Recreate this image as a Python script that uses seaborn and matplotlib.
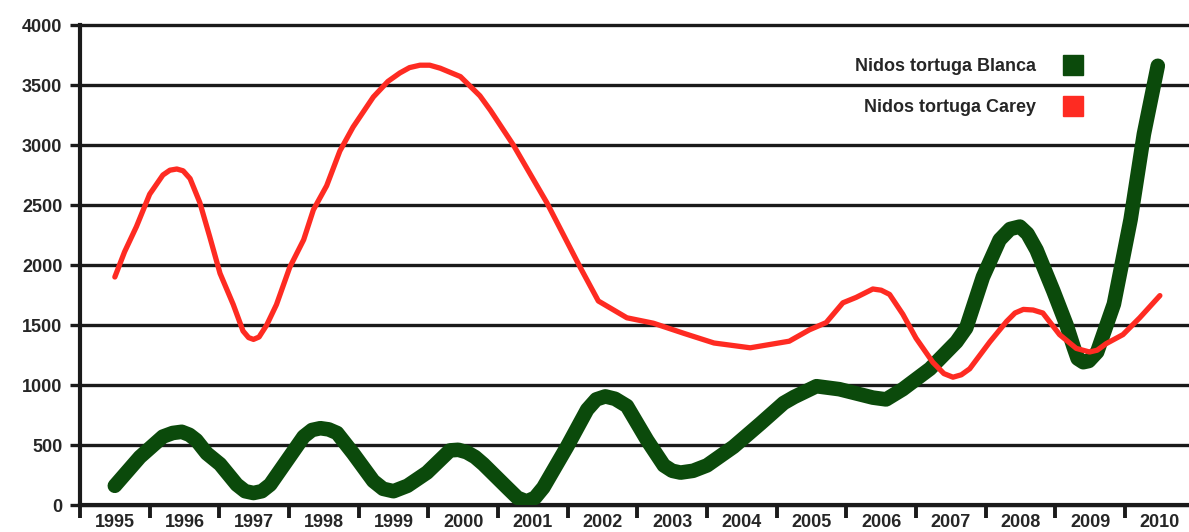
import matplotlib
matplotlib.use('Agg')
import matplotlib.pyplot as plt
from matplotlib.lines import Line2D
import seaborn as sns
import pandas as pd

# Values (year position, number of nests)
years = list(range(1995, 2011))

blanca_x = [1995.00, 1995.36, 1995.69, 1995.83, 1995.96, 1996.07, 1996.17, 1996.32,
            1996.51, 1996.75, 1996.87, 1996.99, 1997.11, 1997.23, 1997.47, 1997.71,
            1997.83, 1997.95, 1998.07, 1998.19, 1998.42, 1998.71, 1998.85, 1999.00,
            1999.20, 1999.48, 1999.81, 1999.93, 2000.05, 2000.17, 2000.29, 2000.63,
            2000.78, 2000.91, 2001.03, 2001.15, 2001.49, 2001.78, 2001.91, 2002.04,
            2002.18, 2002.35, 2002.64, 2002.88, 2003.00, 2003.12, 2003.30, 2003.50,
            2003.88, 2004.27, 2004.60, 2004.75, 2005.07, 2005.40, 2005.88, 2006.07,
            2006.31, 2006.70, 2007.08, 2007.22, 2007.46, 2007.70, 2007.85, 2007.99,
            2008.10, 2008.23, 2008.47, 2008.66, 2008.76, 2008.82, 2008.90, 2008.98,
            2009.10, 2009.34, 2009.58, 2009.77, 2009.97]
blanca_y = [160, 400, 570, 600, 610, 585, 540, 430,
            340, 170, 115, 100, 115, 170, 370, 570,
            625, 640, 630, 600, 430, 200, 135, 115,
            160, 270, 455, 460, 440, 400, 340, 145,
            60, 30, 60, 145, 485, 795, 880, 905,
            885, 825, 540, 330, 285, 270, 285, 330,
            485, 680, 850, 900, 990, 965, 895, 880,
            965, 1135, 1360, 1475, 1900, 2210, 2300, 2320,
            2260, 2125, 1785, 1500, 1320, 1220, 1190, 1200,
            1275, 1675, 2380, 3090, 3660]

carey_x = [1995.00, 1995.14, 1995.31, 1995.50, 1995.69, 1995.79, 1995.89, 1995.98,
           1996.08, 1996.22, 1996.36, 1996.51, 1996.70, 1996.84, 1996.92, 1996.99,
           1997.07, 1997.18, 1997.32, 1997.51, 1997.71, 1997.85, 1998.04, 1998.23,
           1998.42, 1998.71, 1998.92, 1999.09, 1999.23, 1999.38, 1999.52, 1999.67,
           1999.96, 2000.24, 2000.39, 2000.72, 2001.20, 2001.68, 2001.94, 2002.35,
           2002.73, 2003.17, 2003.60, 2004.12, 2004.68, 2004.97, 2005.21, 2005.45,
           2005.64, 2005.88, 2006.00, 2006.12, 2006.31, 2006.50, 2006.74, 2006.90,
           2007.03, 2007.15, 2007.27, 2007.56, 2007.80, 2007.92, 2008.04, 2008.18,
           2008.32, 2008.56, 2008.80, 2008.99, 2009.10, 2009.23, 2009.47, 2009.71,
           2010.00]
carey_y = [1900, 2110, 2320, 2590, 2750, 2790, 2800, 2785,
           2720, 2520, 2240, 1930, 1670, 1450, 1395, 1380,
           1400, 1500, 1670, 1980, 2210, 2460, 2660, 2950,
           3150, 3400, 3530, 3600, 3645, 3665, 3665, 3640,
           3570, 3410, 3290, 3000, 2520, 1980, 1700, 1560,
           1515, 1430, 1350, 1310, 1365, 1460, 1520, 1685,
           1730, 1800, 1790, 1755, 1590, 1390, 1190, 1095,
           1065, 1085, 1135, 1360, 1530, 1600, 1630, 1625,
           1600, 1420, 1305, 1275, 1290, 1345, 1420, 1560,
           1745]

labels = ['Nidos tortuga Blanca', 'Nidos tortuga Carey']
green = '#0b4a0b'
red = '#fe2b22'

sns.set_theme(style='white')
plt.rcParams['font.family'] = ['Liberation Sans', 'DejaVu Sans']
plt.rcParams['font.weight'] = 'bold'

W, H = 1189, 532
fig = plt.figure(figsize=(W / 100, H / 100), dpi=100)
ax = fig.add_axes([80 / W, 27 / H, (W - 80) / W, 480 / H])

blanca = pd.DataFrame({'x': blanca_x, 'y': blanca_y})
carey = pd.DataFrame({'x': carey_x, 'y': carey_y})

sns.lineplot(data=carey, x='x', y='y', ax=ax, color=red, linewidth=3.8,
             estimator=None, sort=False, solid_capstyle='round',
             solid_joinstyle='round', zorder=4)
sns.lineplot(data=blanca, x='x', y='y', ax=ax, color=green, linewidth=10.5,
             estimator=None, sort=False, solid_capstyle='round',
             solid_joinstyle='round', zorder=3)

ax.set_xlim(1994.5, 1994.5 + (W - 80) / 69.67)
ax.set_ylim(0, 4000)
ax.set_xlabel('')
ax.set_ylabel('')

# y axis: gridlines every 500
ax.set_yticks(range(0, 4001, 500))
ax.grid(axis='y', color='#1a1a1a', linewidth=2.4)
ax.grid(axis='x', visible=False)
for gl in ax.get_ygridlines():
    gl.set_clip_on(False)
ax.tick_params(axis='y', direction='out', length=7.2, width=2.4, color='#1a1a1a',
               pad=5.5, labelsize=13, left=True)

# x axis: ticks at category boundaries, labels centred
ax.set_xticks([y - 0.5 for y in years])
ax.set_xticklabels([])
ax.set_xticks(years, minor=True)
ax.set_xticklabels([str(y) for y in years], minor=True)
ax.tick_params(axis='x', which='major', direction='out', length=9.5, width=2.8,
               color='#1a1a1a', bottom=True)
ax.tick_params(axis='x', which='minor', length=0, pad=6.5, labelsize=13)

for s in ['top', 'right']:
    ax.spines[s].set_visible(False)
ax.spines['left'].set_color('#1a1a1a')
ax.spines['left'].set_linewidth(3)
ax.spines['bottom'].set_color('#1a1a1a')
ax.spines['bottom'].set_linewidth(3)
ax.set_axisbelow(True)

handles = [Line2D([], [], marker='s', linestyle='none', markersize=14.4,
                  markerfacecolor=c, markeredgecolor=c) for c in (green, red)]
ax.legend(handles, labels, loc='upper right', markerfirst=False, frameon=False,
          bbox_to_anchor=(1083 / W, 1 - 58 / H), bbox_transform=fig.transFigure,
          prop={'size': 13, 'weight': 'bold'}, handlelength=1.1, handletextpad=1.5,
          labelspacing=1.33, borderpad=0, borderaxespad=0)

fig.savefig('out.png', dpi=100)
